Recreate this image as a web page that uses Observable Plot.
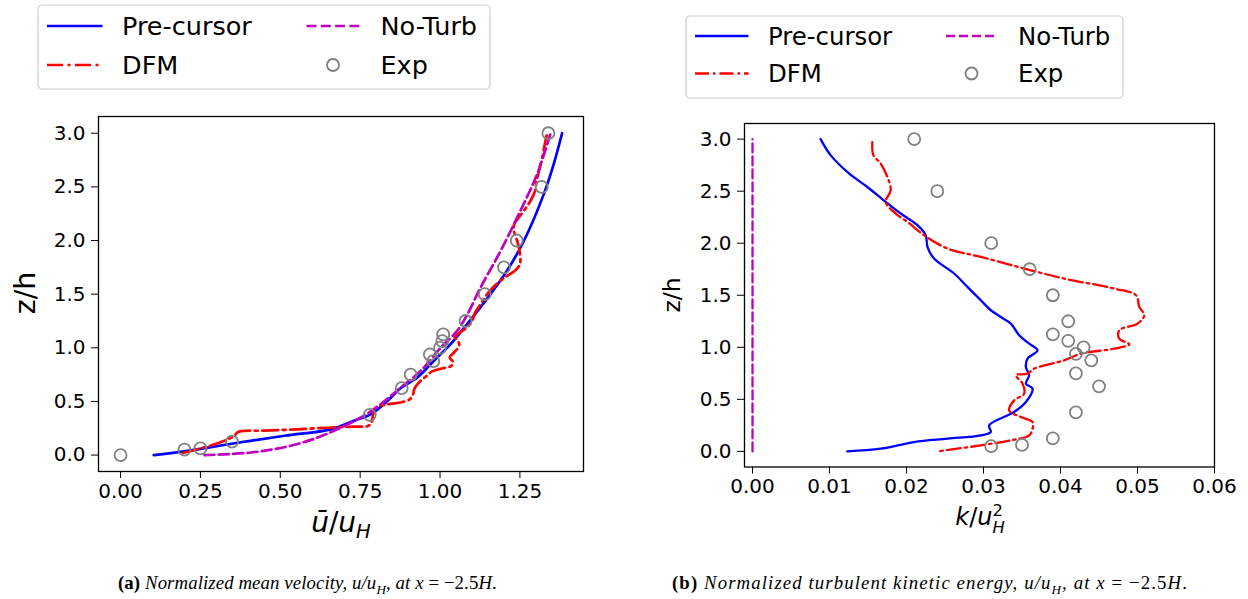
<!DOCTYPE html>
<html><head><meta charset="utf-8">
<script src="https://cdn.jsdelivr.net/npm/d3@7"></script>
<script src="https://cdn.jsdelivr.net/npm/@observablehq/plot@0.6"></script>
<style>
body{margin:0;background:#fff;}
#root{position:relative;width:1248px;height:599px;overflow:hidden;background:#fff;}
.lbl{position:absolute;font-family:"DejaVu Sans",sans-serif;white-space:nowrap;transform:translate(-50%,-50%);line-height:1;}
.ylbl{position:absolute;font-family:"DejaVu Sans",sans-serif;white-space:nowrap;transform:translate(-50%,-50%) rotate(-90deg);line-height:1;}
.cap{position:absolute;font-family:"Liberation Serif","Times New Roman",serif;white-space:nowrap;line-height:1;}
.ss{display:inline-block;vertical-align:-0.5em;font-size:0.68em;line-height:1.05;text-align:left;}
.ss span{display:block;}
</style></head><body><div id="root"></div>
<script>
// ---------- (a) mean velocity ----------
const expZ_a = [0, 0.05, 0.0625, 0.125, 0.375, 0.625, 0.75, 0.875, 0.9375, 1.0, 1.0625, 1.125, 1.25, 1.5, 1.75, 2.0, 2.5, 3.0];
const expU_a = [0.0, 0.20, 0.25, 0.349, 0.78, 0.88, 0.908, 0.979, 0.968, 1.0, 1.007, 1.01, 1.08, 1.14, 1.20, 1.24, 1.318, 1.339];

const preZ_a = [0, 0.034, 0.11, 0.18, 0.24, 0.32, 0.38, 0.507, 0.625, 0.724, 0.88, 1.035, 1.222, 1.5, 1.72, 2.0, 2.435, 2.715, 3.0];
const preU_a = [0.104, 0.2, 0.356, 0.513, 0.658, 0.731, 0.783, 0.836, 0.877, 0.929, 0.981, 1.033, 1.085, 1.158, 1.21, 1.263, 1.325, 1.356, 1.382];

const ntZ_a = [0, 0.024, 0.08, 0.164, 0.257, 0.35, 0.476, 0.63, 0.786, 1.004, 1.16, 1.315, 1.563, 1.906, 2.28, 2.62, 3.0];
const ntU_a = [0.263, 0.408, 0.523, 0.617, 0.69, 0.752, 0.815, 0.877, 0.94, 1.003, 1.054, 1.086, 1.127, 1.19, 1.252, 1.304, 1.346];

const dfmZ_a = [0.02, 0.05, 0.09, 0.14, 0.18, 0.215, 0.228, 0.24, 0.255, 0.265, 0.272, 0.30, 0.37, 0.44, 0.47, 0.49, 0.52, 0.56, 0.62, 0.68, 0.73, 0.78, 0.81, 0.83, 0.87, 0.91, 0.96, 1.02, 1.07, 1.10, 1.14, 1.19, 1.25, 1.33, 1.42, 1.51, 1.59, 1.66, 1.72, 1.78, 1.88, 1.98, 2.08, 2.15, 2.22, 2.30, 2.38, 2.46, 2.55, 2.65, 2.75, 2.85, 2.93, 2.98];
const dfmU_a = [0.195, 0.235, 0.283, 0.33, 0.356, 0.368, 0.45, 0.55, 0.65, 0.73, 0.775, 0.785, 0.79, 0.797, 0.83, 0.875, 0.905, 0.915, 0.92, 0.935, 0.955, 0.975, 1.01, 1.035, 1.04, 1.03, 1.045, 1.06, 1.055, 1.045, 1.06, 1.085, 1.10, 1.11, 1.13, 1.15, 1.175, 1.205, 1.235, 1.25, 1.25, 1.243, 1.232, 1.232, 1.248, 1.268, 1.285, 1.297, 1.302, 1.31, 1.318, 1.325, 1.33, 1.334];

const xTicks_a = [0, 0.25, 0.5, 0.75, 1.0, 1.25];
const yTicks = [0, 0.5, 1.0, 1.5, 2.0, 2.5, 3.0];

// ---------- (b) turbulent kinetic energy ----------
const expZ_b = [3.0, 2.5, 2.0, 1.75, 1.5, 1.25, 1.125, 1.0625, 1.0, 0.9375, 0.875, 0.75, 0.625, 0.375, 0.125, 0.0625, 0.05];
const expK_b = [0.021, 0.024, 0.031, 0.036, 0.039, 0.041, 0.039, 0.041, 0.043, 0.042, 0.044, 0.042, 0.045, 0.042, 0.039, 0.035, 0.031];

const preZ_b = [3.0, 2.846, 2.67, 2.54, 2.41, 2.285, 2.173, 2.077, 1.965, 1.853, 1.709, 1.58, 1.452, 1.356, 1.291, 1.228, 1.115, 1.035, 0.971, 0.891, 0.811, 0.731, 0.651, 0.603, 0.474, 0.378, 0.25, 0.186, 0.154, 0.122, 0.09, 0.026, 0.0];
const preK_b = [0.00884, 0.01014, 0.01253, 0.01491, 0.01708, 0.01925, 0.02142, 0.0225, 0.02272, 0.02358, 0.02618, 0.02792, 0.02965, 0.03095, 0.03225, 0.03355, 0.03463, 0.03593, 0.03702, 0.03572, 0.0355, 0.03593, 0.0355, 0.03637, 0.0355, 0.03398, 0.03073, 0.03095, 0.02965, 0.02532, 0.02098, 0.01664, 0.01231];

const dfmZ_b = [2.97, 2.846, 2.766, 2.638, 2.51, 2.397, 2.285, 2.205, 2.077, 1.949, 1.868, 1.74, 1.66, 1.564, 1.5, 1.388, 1.308, 1.228, 1.163, 1.083, 1.029, 0.987, 0.939, 0.875, 0.795, 0.747, 0.731, 0.651, 0.555, 0.49, 0.394, 0.33, 0.282, 0.218, 0.154, 0.106, 0.058, 0.0];
const dfmK_b = [0.01556, 0.0157, 0.01664, 0.01751, 0.01795, 0.0173, 0.0186, 0.02012, 0.02228, 0.02532, 0.02965, 0.03615, 0.04048, 0.04698, 0.0498, 0.05023, 0.05088, 0.05002, 0.04763, 0.04763, 0.04893, 0.04698, 0.04265, 0.04048, 0.03658, 0.03572, 0.0342, 0.03507, 0.03528, 0.03398, 0.03333, 0.03485, 0.03637, 0.03637, 0.03593, 0.03355, 0.02965, 0.02402];

const ntZ_b = [0, 3.0];
const ntK_b = [0, 0];

const xTicks_b = [0, 0.01, 0.02, 0.03, 0.04, 0.05, 0.06];

const legendLabels = ["Pre-cursor", "DFM", "No-Turb", "Exp"];

// ---------- helpers ----------
const zip = (xs, zs) => xs.map((v, i) => ({x: v, z: zs[i]}));
const BLUE = "#0000ff", RED = "#ff0000", MAG = "#bf00bf", GRAY = "#808080";
const root = document.getElementById("root");

function makePlot(o) {
  const svg = Plot.plot({
    width: 624, height: 545,
    marginLeft: o.ml, marginRight: o.mr, marginTop: o.mt, marginBottom: o.mb,
    x: {domain: o.xd}, y: {domain: o.yd},
    style: {fontFamily: "DejaVu Sans, sans-serif", fontSize: "20px", color: "black", background: "transparent", overflow: "visible"},
    marks: [
      Plot.axisX({ticks: o.xt, tickFormat: o.xf, tickSize: 7, tickPadding: 5, label: null, fontSize: 20}),
      Plot.axisY({ticks: yTicks, tickFormat: d3.format(".1f"), tickSize: 7, tickPadding: 6, label: null, fontSize: 20}),
      Plot.line(o.pre, {x: "x", y: "z", stroke: BLUE, strokeWidth: o.lw, curve: "catmull-rom"}),
      Plot.line(o.dfm, {x: "x", y: "z", stroke: RED, strokeWidth: o.lw, curve: "catmull-rom", strokeDasharray: o.dd}),
      Plot.line(o.nt, {x: "x", y: "z", stroke: MAG, strokeWidth: o.lw, curve: "catmull-rom", strokeDasharray: o.ds}),
      Plot.dot(o.exp, {x: "x", y: "z", r: 6, stroke: GRAY, strokeWidth: 1.8, fill: "none"}),
      Plot.frame({stroke: "black", strokeWidth: 1.3})
    ]
  });
  svg.style.position = "absolute";
  svg.style.left = o.left + "px";
  svg.style.top = "0px";
  root.append(svg);
}

makePlot({
  left: 0, ml: 98, mr: 41, mt: 116, mb: 74,
  xd: [-0.069, 1.449], yd: [-0.153, 3.156],
  xt: xTicks_a, xf: d3.format(".2f"), lw: 2.7, dd: "16,4.5,3,4.5", ds: "10,4.3",
  pre: zip(preU_a, preZ_a), dfm: zip(dfmU_a, dfmZ_a), nt: zip(ntU_a, ntZ_a), exp: zip(expU_a, expZ_a)
});
makePlot({
  left: 624, ml: 120, mr: 34, mt: 123, mb: 78.5,
  xd: [-0.00104, 0.06], yd: [-0.15, 3.15],
  xt: xTicks_b, xf: d3.format(".2f"), lw: 2.3, dd: "14,4,2.5,4", ds: "9,4",
  pre: zip(preK_b, preZ_b), dfm: zip(dfmK_b, dfmZ_b), nt: zip(ntK_b, ntZ_b), exp: zip(expK_b, expZ_b)
});

// ---------- legends ----------
function legend(L) {
  const pad = 3;
  const svg = d3.create("svg")
    .attr("width", L.w + 2 * pad).attr("height", L.h + 2 * pad)
    .style("position", "absolute").style("left", (L.x - pad) + "px").style("top", (L.y - pad) + "px");
  svg.append("rect").attr("x", pad).attr("y", pad).attr("width", L.w).attr("height", L.h)
    .attr("rx", 4).attr("fill", "white").attr("fill-opacity", 0.8).attr("stroke", "#cccccc").attr("stroke-width", 1.2);
  const g = svg.append("g").attr("transform", `translate(${pad - L.x},${pad - L.y})`);
  const styles = [
    {stroke: BLUE, dash: null}, {stroke: RED, dash: L.dd}, {stroke: MAG, dash: L.ds}, {dot: true}
  ];
  legendLabels.forEach((lab, i) => {
    const col = i < 2 ? 0 : 1, row = i % 2;
    const hx0 = L.hx[col][0], hx1 = L.hx[col][1], y = L.rows[row];
    const s = styles[i];
    if (s.dot) {
      g.append("circle").attr("cx", (hx0 + hx1) / 2).attr("cy", y).attr("r", 6).attr("fill", "none").attr("stroke", GRAY).attr("stroke-width", 1.8);
    } else {
      g.append("line").attr("x1", hx0).attr("x2", hx1).attr("y1", y).attr("y2", y)
        .attr("stroke", s.stroke).attr("stroke-width", L.lw).attr("stroke-dasharray", s.dash);
    }
    g.append("text").attr("x", L.tx[col]).attr("y", y).attr("dy", "0.36em")
      .attr("font-family", "DejaVu Sans, sans-serif").attr("font-size", L.fs).attr("fill", "black").text(lab);
  });
  root.append(svg.node());
}
legend({x: 37.5, y: 5, w: 452, h: 84, rows: [26, 65], hx: [[46.5, 102], [306, 359]], tx: [121.5, 380], fs: 25.5, lw: 2.7, dd: "16,4.5,3,4.5", ds: "10,4.3"});
legend({x: 686, y: 16, w: 437, h: 82, rows: [36, 73.5], hx: [[695, 748.5], [946, 997]], tx: [768, 1018], fs: 24.4, lw: 2.5, dd: "14,4,2.5,4", ds: "9,4"});

// ---------- axis labels ----------
function addDiv(cls, html, x, y, fs, extra) {
  const d = document.createElement("div");
  d.className = cls; d.innerHTML = html;
  d.style.left = x + "px"; d.style.top = y + "px"; d.style.fontSize = fs + "px";
  if (extra) Object.assign(d.style, extra);
  root.append(d);
}
addDiv("ylbl", "z/h", 26, 293, 28.5);
addDiv("ylbl", "z/h", 673, 295, 23.5);
addDiv("lbl", "<i>ū</i>/<i>u</i><sub style='font-size:0.7em;vertical-align:-0.3em'><i>H</i></sub>", 341, 525, 28);
addDiv("lbl", "<i>k</i>/<i>u</i><span class='ss'><span>2</span><span><i>H</i></span></span>", 980, 519, 24);

// ---------- captions ----------
addDiv("cap", "<b>(a)</b> <i>Normalized mean velocity, u/u<sub style='font-size:0.7em'>H</sub>, at x</i> = −2.5<i>H</i>.", 118, 574, 18.8, {letterSpacing: "0.1px"});
addDiv("cap", "<b>(b)</b> <i>Normalized turbulent kinetic energy, u/u<sub style='font-size:0.7em'>H</sub>, at x</i> = −2.5<i>H</i>.", 672, 574, 18.8, {letterSpacing: "1.1px"});
</script>
</body></html>
